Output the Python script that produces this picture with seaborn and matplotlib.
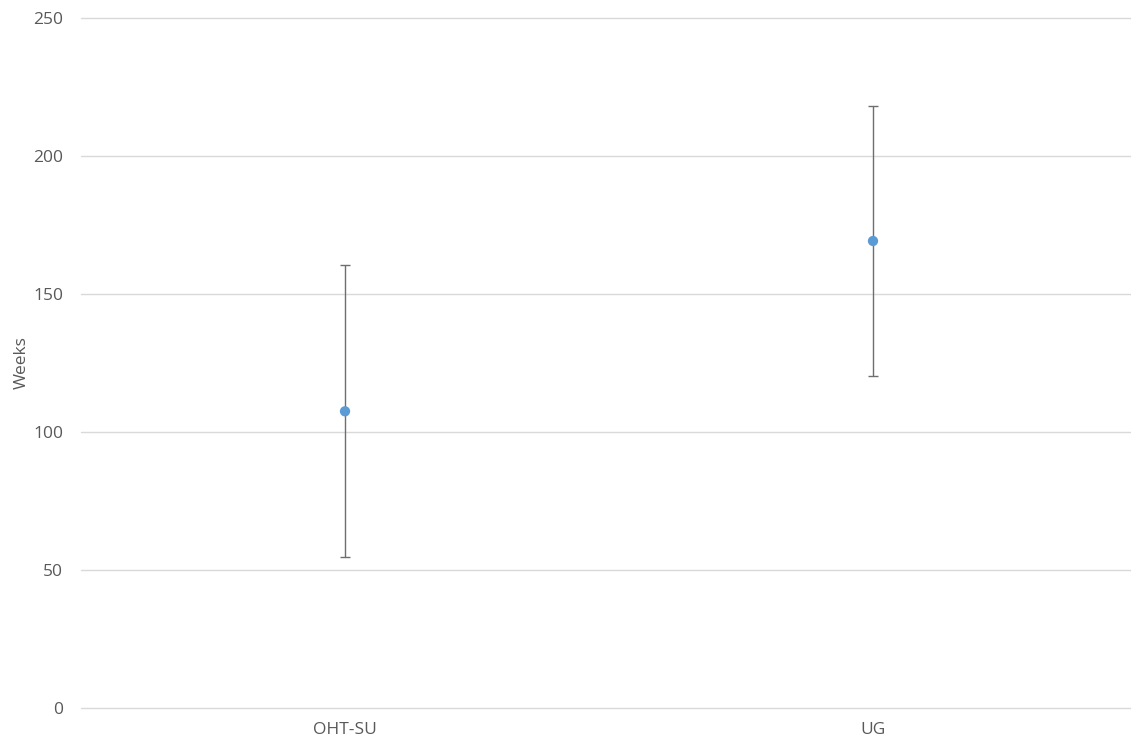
import numpy as np
import pandas as pd
import matplotlib.pyplot as plt
import seaborn as sns

groups = ["OHT-SU", "UG"]
mean_weeks = [107.5, 169.2]
upper_weeks = [160.6, 218.1]
lower_weeks = [54.6, 120.3]

df = pd.DataFrame({"group": groups, "weeks": mean_weeks,
                   "upper": upper_weeks, "lower": lower_weeks})

sns.set_style("white")
plt.rcParams["font.family"] = ["Open Sans", "DejaVu Sans"]

fig = plt.figure(figsize=(11.31, 7.40), dpi=100)
ax = fig.add_axes([81 / 1131, 0.0432, 1056 / 1131, 0.9325])

x = np.arange(len(groups))
ax.errorbar(x, df["weeks"],
            yerr=[df["weeks"] - df["lower"], df["upper"] - df["weeks"]],
            fmt="none", ecolor="#6e6e6e", elinewidth=1, capsize=3.5, capthick=1, zorder=2)
sns.scatterplot(x=x, y=df["weeks"], ax=ax, color="#5b9bd5", s=55,
                edgecolor="none", zorder=3)

ax.set_xlim(-0.5, 1.5)
ax.set_ylim(0, 250)
ax.set_yticks(range(0, 251, 50))
ax.set_xticks(x, labels=groups)
ax.yaxis.grid(True, color="#d9d9d9", linewidth=1)
for line in ax.get_ygridlines():
    line.set_clip_on(False)
ax.set_axisbelow(True)
for s in ["top", "right", "left", "bottom"]:
    ax.spines[s].set_visible(False)
ax.tick_params(axis="both", length=0, labelsize=12.5, labelcolor="#595959")
ax.tick_params(axis="x", pad=10)
ax.tick_params(axis="y", pad=13)
ax.set_ylabel("Weeks", fontsize=12.5, color="#595959")
ax.yaxis.set_label_coords(-0.0485, 0.5)

fig.savefig("out.png", dpi=100)
